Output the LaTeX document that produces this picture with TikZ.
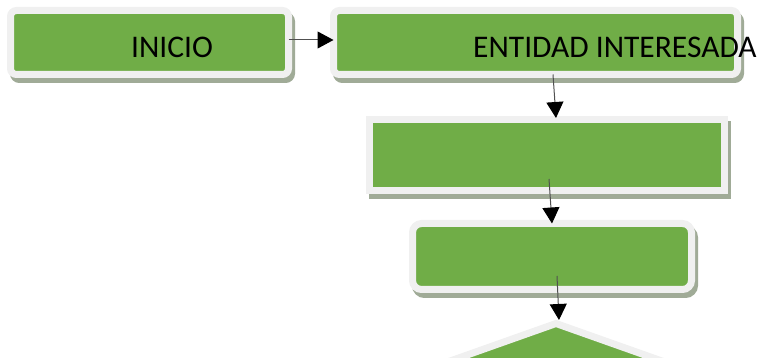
\documentclass[tikz,border=0pt]{standalone}
\usepackage{fontspec}
\setmainfont{Carlito}
\usetikzlibrary{shapes.geometric,arrows.meta,calc}
\definecolor{boxgreen}{HTML}{70AD47}
\definecolor{boxrim}{HTML}{F0F0F0}
\definecolor{boxshadow}{HTML}{A0AB97}
\definecolor{linkgray}{HTML}{505050}
\begin{document}
\begin{tikzpicture}[x=1pt,y=-1pt,
  flowbox/.style={fill=boxgreen, draw=boxrim, line width=7pt, inner sep=0pt, outer sep=0pt,
    preaction={draw=boxshadow, fill=boxshadow, transform canvas={xshift=3pt,yshift=-5pt}}},
  lbl/.style={font=\fontsize{31.5}{31.5}\selectfont, inner sep=0pt, text=black},
  link/.style={draw=linkgray, line width=1pt, -{Triangle[length=16pt,width=17pt,fill=black,color=black]}}]
\useasboundingbox (0,0) rectangle (764,358);
\clip (0,0) rectangle (764,358);
\node[flowbox, rounded corners=6pt, minimum width=278pt, minimum height=64pt] (b1) at (149.5,42.5) {};
\node[flowbox, rounded corners=6pt, minimum width=404pt, minimum height=64pt] (b2) at (535.5,42.5) {};
\node[flowbox, minimum width=355pt, minimum height=71pt] (b3) at (547,155) {};
\node[flowbox, rounded corners=9pt, minimum width=279pt, minimum height=66pt] (b4) at (552,256.5) {};
\node[flowbox, shape=diamond, minimum width=254pt, minimum height=90pt] (d1) at (556,368.5) {};
\node[lbl, anchor=base] (t1) at (172,58) {INICIO};
\node[lbl, anchor=base west] (t2) at (473,58) {ENTIDAD INTERESADA};
\draw[link] ([yshift=2.5pt]b1.east) -- ([yshift=2.5pt]b2.west);
\draw[link] ([xshift=17.5pt]b2.south) -- ([xshift=9pt,yshift=1.5pt]b3.north);
\draw[link] ([xshift=2pt,yshift=11.5pt]b3.south) -- (b4.north);
\draw[link] ([xshift=5pt,yshift=13.5pt]b4.south) -- ([xshift=3pt,yshift=3.5pt]d1.north);
\end{tikzpicture}
\end{document}
